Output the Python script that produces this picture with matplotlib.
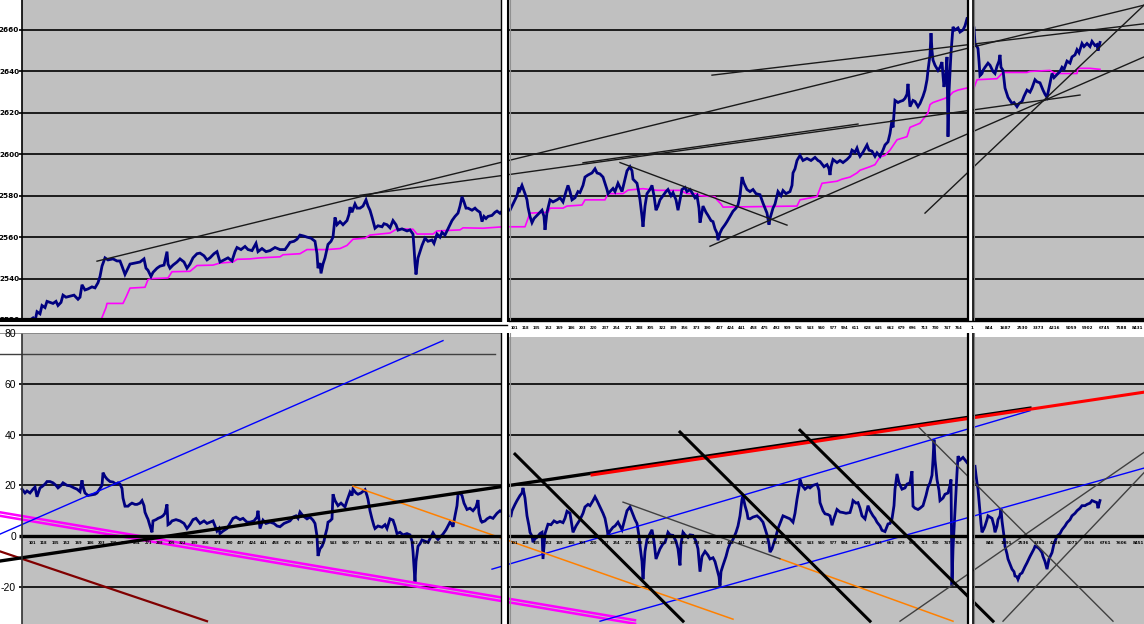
import numpy as np
import matplotlib
matplotlib.use("Agg")
import matplotlib.pyplot as plt

# ---------------- data (time index = column position of each sample) ----------------
top_left = [(30, 2520), (33, 2521), (35, 2519.5), (37, 2524), (40, 2523), (42, 2527), (45, 2526), (47, 2529), (50, 2528.5),
    (53, 2528), (56, 2529), (58, 2527), (61, 2528.5), (63, 2532), (66, 2531), (70, 2531.5), (74, 2532), (78, 2530), (80, 2531),
    (82, 2537), (85, 2534.5), (88, 2535), (92, 2536), (95, 2535.5), (98, 2538), (100, 2541), (102, 2546), (105, 2550), (108, 2549),
    (113, 2549.5), (117, 2548.5), (120, 2548.5), (122, 2546), (125, 2542), (127, 2544), (130, 2547), (135, 2547.5), (140, 2548),
    (144, 2549.5), (146, 2545), (148, 2544), (151, 2541), (153, 2543), (157, 2545), (160, 2546), (164, 2546.5), (167, 2553),
    (168, 2547), (170, 2545), (173, 2546.5), (177, 2548), (180, 2549.5), (184, 2548), (187, 2545), (190, 2547), (193, 2550),
    (197, 2552), (200, 2552.3), (204, 2551), (207, 2549), (210, 2550), (214, 2552), (217, 2553), (220, 2548), (224, 2549),
    (228, 2550), (232, 2548.5), (235, 2553), (237, 2555), (241, 2554), (245, 2555.5), (248, 2554), (252, 2553.5), (256, 2557),
    (258, 2553), (262, 2554.5), (266, 2553), (270, 2553.5), (275, 2555), (280, 2554), (285, 2554), (288, 2556), (290, 2557.5),
    (294, 2558), (297, 2559), (300, 2561), (304, 2560.5), (307, 2560), (311, 2559.5), (315, 2558), (317, 2552), (318, 2545),
    (320, 2547.5), (321, 2542.5), (323, 2547), (325, 2550), (328, 2556.5), (331, 2558), (333, 2560), (335, 2569.5), (337, 2566),
    (340, 2567.5), (343, 2566), (347, 2568), (349, 2571), (350, 2574.5), (352, 2572), (355, 2576), (357, 2574), (360, 2574),
    (363, 2575), (366, 2578), (368, 2575), (370, 2573), (372, 2569.7), (374, 2566), (375, 2564.3), (378, 2565.5), (382, 2565),
    (384, 2566.5), (387, 2566), (390, 2564.5), (393, 2568), (396, 2566), (398, 2563.4), (402, 2564), (407, 2563), (410, 2563.5),
    (413, 2561.5), (414, 2555), (415, 2547.5), (416, 2542), (418, 2550), (420, 2553), (422, 2556), (425, 2559.5), (428, 2558),
    (432, 2558.6), (434, 2557), (437, 2561.5), (440, 2560), (442, 2562.3), (445, 2561), (447, 2563), (450, 2566), (452, 2568),
    (455, 2570), (458, 2571.6), (460, 2575), (462, 2579.5), (464, 2577), (466, 2574), (468, 2574), (472, 2573), (475, 2574),
    (477, 2573), (480, 2572), (482, 2567.5), (484, 2570), (486, 2569), (488, 2570), (492, 2570.5), (495, 2572), (497, 2572.6),
    (500, 2571.5), (503, 2573), (505, 2574)]

top_mid = [(510, 2573), (512, 2575), (515, 2578), (517, 2580), (519, 2584), (520, 2582.7), (522, 2585), (525, 2581), (527, 2578),
    (528, 2574.5), (530, 2570), (532, 2567), (534, 2569), (537, 2570.5), (540, 2572), (542, 2573), (544, 2570), (545, 2563.5),
    (547, 2572), (550, 2578), (553, 2577), (557, 2578), (560, 2579), (563, 2577), (566, 2582), (568, 2585), (570, 2582),
    (572, 2578), (575, 2579), (578, 2582), (580, 2581.5), (583, 2585), (585, 2589), (588, 2590), (592, 2591), (595, 2593),
    (597, 2591), (600, 2590.5), (603, 2589), (605, 2586), (607, 2583), (608, 2581), (610, 2582), (613, 2583.5), (615, 2582),
    (618, 2586), (620, 2584), (622, 2582), (625, 2588), (627, 2592), (630, 2594), (632, 2592), (633, 2588), (635, 2587),
    (637, 2586), (639, 2581), (640, 2578), (642, 2570), (643, 2565), (645, 2575), (647, 2581), (650, 2583), (652, 2585),
    (654, 2580), (656, 2573), (658, 2575), (660, 2578), (663, 2580), (666, 2582), (668, 2583), (671, 2580), (673, 2581.5),
    (676, 2578), (678, 2573), (680, 2578), (682, 2583), (685, 2584), (687, 2582), (690, 2583), (692, 2581.5), (695, 2579),
    (697, 2580), (699, 2574), (700, 2567), (702, 2572), (703, 2575), (706, 2572), (708, 2570.5), (711, 2568), (713, 2567.5),
    (715, 2564), (717, 2562), (718, 2558.5), (720, 2562), (722, 2564), (725, 2566), (727, 2567.5), (730, 2570), (733, 2572.5),
    (736, 2574), (738, 2575.5), (740, 2580), (742, 2589), (744, 2586), (747, 2583), (750, 2582), (753, 2583), (756, 2581),
    (760, 2580.5), (763, 2576.4), (765, 2574), (767, 2571.6), (769, 2566), (770, 2569), (773, 2574), (775, 2576), (778, 2582),
    (781, 2580), (783, 2582.5), (786, 2581), (790, 2582), (792, 2585), (793, 2591), (795, 2593), (797, 2597), (800, 2599.5),
    (803, 2597), (807, 2598), (811, 2597), (815, 2598.5), (818, 2597), (820, 2596.5), (824, 2594), (827, 2595), (829, 2593),
    (830, 2590), (831, 2594), (833, 2597.5), (837, 2596), (840, 2597), (843, 2596), (847, 2597.5), (850, 2599), (852, 2602),
    (855, 2601), (857, 2603), (859, 2600), (860, 2599), (863, 2601), (867, 2604.5), (869, 2602), (872, 2601.5), (875, 2599),
    (877, 2600.7), (880, 2599), (883, 2602), (885, 2604.5), (888, 2606), (890, 2610), (892, 2616.5), (893, 2613), (895, 2626),
    (898, 2625), (900, 2625.5), (903, 2626), (905, 2627), (907, 2629), (908, 2634), (909, 2628), (910, 2623), (913, 2626),
    (915, 2625.5), (918, 2623), (920, 2624.5), (923, 2628), (925, 2631), (927, 2636), (928, 2640.5), (930, 2648), (931, 2658.5),
    (932, 2650), (933, 2645.5), (935, 2643), (938, 2640.5), (940, 2642), (942, 2644.5), (943, 2638), (944, 2632.5), (946, 2640),
    (947, 2647), (948, 2608.5), (949, 2630), (951, 2649), (952, 2655), (953, 2661.5), (955, 2660), (958, 2661), (960, 2659),
    (963, 2660), (965, 2662), (967, 2665.5)]

top_right = [(974, 2661), (975, 2653.5), (977, 2652), (978, 2651), (979, 2645), (980, 2638), (982, 2639), (983, 2640.5),
    (985, 2642), (988, 2644), (990, 2643), (993, 2640), (995, 2639), (997, 2642.5), (999, 2645), (1000, 2648), (1001, 2642),
    (1003, 2640.5), (1005, 2632), (1007, 2629), (1008, 2627.5), (1010, 2626), (1012, 2624.5), (1014, 2625), (1017, 2623),
    (1019, 2624.5), (1022, 2625.5), (1024, 2628), (1027, 2631), (1030, 2630), (1032, 2632), (1035, 2636), (1037, 2635),
    (1040, 2634.5), (1043, 2631), (1045, 2629), (1047, 2627.5), (1049, 2632), (1052, 2639), (1054, 2637), (1057, 2638.5),
    (1060, 2640), (1062, 2642), (1064, 2641), (1067, 2645), (1070, 2644), (1072, 2647), (1075, 2648), (1077, 2650.5),
    (1079, 2649), (1082, 2653.5), (1084, 2652), (1087, 2653.5), (1090, 2652), (1092, 2654.5), (1095, 2652.5), (1097, 2653),
    (1098, 2650), (1100, 2654)]

avg_left = [(101, 2520), (106, 2526), (107, 2528), (123, 2528), (126, 2531), (130, 2535.4), (145, 2535.8), (148, 2539.5),
    (152, 2540), (168, 2540.3), (172, 2543.3), (190, 2543.5), (197, 2546.3), (213, 2546.5), (220, 2547.5), (233, 2548),
    (237, 2549.3), (250, 2549.5), (260, 2550), (280, 2550.5), (283, 2551.5), (300, 2552), (307, 2554), (327, 2554),
    (340, 2554.5), (347, 2556), (353, 2559), (365, 2559.5), (370, 2561), (390, 2562), (397, 2564), (413, 2563.8),
    (417, 2561.5), (433, 2561.5), (437, 2563), (460, 2563.5), (463, 2564.5), (483, 2564.3), (503, 2565)]
avg_mid = [(510, 2565), (525, 2565), (528, 2569), (530, 2571.6), (548, 2572), (550, 2574), (563, 2574), (567, 2575),
    (582, 2575.5), (585, 2578), (605, 2578), (608, 2581), (623, 2581), (628, 2582.7), (643, 2583.4), (657, 2582.6),
    (680, 2582.6), (687, 2581), (697, 2581), (700, 2580), (715, 2579.5), (717, 2578), (721, 2576), (723, 2574.5),
    (797, 2575), (800, 2578), (817, 2579.6), (822, 2586), (837, 2587), (842, 2588), (850, 2589), (857, 2591), (860, 2592.3),
    (870, 2594), (875, 2595), (880, 2598.7), (885, 2599.5), (890, 2602), (897, 2607), (907, 2608.5), (910, 2613),
    (920, 2615), (928, 2620), (930, 2624), (933, 2625), (945, 2627), (950, 2628.5), (953, 2630), (958, 2631), (967, 2632)]
avg_right = [(974, 2632), (977, 2636), (997, 2636.5), (1000, 2638), (1003, 2639.5), (1027, 2639.5), (1030, 2640),
    (1050, 2640.5), (1055, 2639), (1077, 2639), (1078, 2641.5), (1090, 2641.5), (1100, 2641)]

bot_left = [(22, 18.5), (25, 17), (27, 17.8), (30, 17), (33, 18.5), (35, 19.3), (37, 15.5), (40, 19), (42, 19.5), (45, 20.5),
    (47, 21.5), (50, 21.5), (53, 21), (56, 20), (58, 19), (61, 20), (63, 21), (67, 20), (70, 19.8), (74, 19), (77, 18.5),
    (80, 17.5), (82, 22), (83, 19.5), (85, 17), (88, 16), (92, 16.3), (95, 16.5), (97, 17), (100, 18.8), (102, 20), (103, 25),
    (105, 23.5), (107, 22.5), (110, 21.5), (113, 21.3), (116, 20.5), (118, 21), (120, 20.5), (122, 18.8), (123, 15),
    (125, 11.8), (128, 11.8), (130, 12.5), (132, 13), (135, 12.5), (137, 12.5), (140, 13), (142, 14), (144, 12), (145, 9.4),
    (147, 7.5), (148, 6.7), (150, 4), (152, 1.5), (153, 6), (156, 6.5), (158, 7), (161, 7.5), (163, 8), (165, 9), (167, 12.5),
    (168, 4.5), (170, 5), (172, 6), (176, 6.5), (180, 6), (184, 5), (187, 3), (190, 4.5), (193, 6.5), (196, 7), (200, 5),
    (204, 6), (207, 5), (210, 5.5), (213, 6), (215, 4), (217, 2), (219, 3), (220, 1), (223, 2), (227, 3), (230, 5), (233, 7),
    (236, 7.5), (240, 6.5), (243, 7), (247, 5.5), (250, 5.5), (254, 6), (257, 7.5), (258, 10), (260, 3), (263, 6.3), (266, 5),
    (270, 5.5), (274, 5), (277, 4), (280, 3.7), (284, 5), (287, 5.5), (290, 6), (293, 7.5), (296, 8), (298, 7), (300, 9.5),
    (303, 8), (307, 6.8), (310, 7.5), (313, 6.3), (315, 5), (317, 0), (318, -7.8), (320, -5), (322, -4), (324, -2), (325, 0),
    (327, 3), (328, 5.5), (330, 6), (332, 6.8), (333, 16.5), (335, 14), (338, 12), (341, 13), (345, 11.5), (347, 14),
    (350, 17.3), (352, 16), (353, 18.5), (356, 17), (358, 16.5), (361, 17), (365, 18.3), (367, 16), (368, 14.5), (370, 10),
    (372, 6.8), (374, 4), (375, 3), (378, 4), (382, 3.5), (385, 4.5), (387, 3), (390, 6.8), (393, 6.3), (395, 4), (397, 1),
    (400, 1.5), (403, 0.5), (407, 1), (410, 0.5), (412, -2), (413, -6), (414, -12), (415, -18), (416, -10), (418, -4),
    (420, -3), (422, -1.5), (425, -2), (428, -2.5), (430, -1), (433, 1.3), (435, 0), (438, -1.3), (441, 0), (443, 0.8),
    (446, 2.5), (448, 4), (450, 5.5), (452, 4.5), (453, 3.7), (455, 8), (457, 12), (458, 16.5), (460, 17), (462, 16),
    (464, 13), (467, 10.5), (470, 11), (473, 10), (476, 11.5), (478, 14.2), (479, 9), (481, 6), (482, 5.5), (485, 6),
    (487, 6.8), (490, 7.5), (493, 7), (495, 8), (497, 9), (500, 10), (502, 9.5), (505, 10.5)]

bot_mid = [(511, 8), (512, 10), (515, 12.5), (517, 14), (520, 16), (522, 17), (523, 19), (525, 15), (527, 8), (529, 4),
    (530, 1.5), (532, 0), (533, -2.4), (535, -1), (537, -0.5), (540, 1), (542, 1.5), (543, -9), (545, 1), (548, 4.7),
    (551, 4.5), (554, 6), (557, 5.3), (560, 5.8), (563, 5.3), (565, 7), (567, 9.8), (570, 9), (572, 4), (573, 1.5), (576, 4),
    (580, 6.5), (583, 9), (585, 11.5), (588, 12.5), (590, 12), (593, 14), (595, 15.5), (597, 14), (600, 11.5), (603, 9),
    (605, 7), (607, 3), (608, 0.5), (610, 2), (613, 3.5), (615, 4), (618, 5.5), (620, 4), (622, 2.5), (625, 7), (627, 10),
    (630, 11.5), (632, 9.5), (635, 6.5), (637, 5), (639, 0), (640, -3.8), (642, -10), (643, -17), (645, -6), (647, -1.3),
    (650, 1), (652, 2.5), (654, -2), (656, -9), (658, -7), (660, -5), (663, -3), (665, -2.5), (668, 1.5), (670, 0.5),
    (673, 0.3), (676, -2), (678, -5), (680, -11.5), (681, -3), (683, 1.5), (685, 0.5), (688, -0.5), (690, 0.5), (693, 0.3),
    (696, -2), (698, -5), (700, -14), (702, -8), (705, -6), (708, -7.5), (710, -9), (713, -8.5), (715, -10), (717, -13),
    (719, -16), (720, -19.5), (721, -14), (723, -11.5), (726, -8), (728, -5), (730, -3), (733, -1.3), (736, 1.5), (738, 4),
    (740, 8), (742, 14.5), (743, 15.7), (745, 12), (747, 9.3), (748, 7), (750, 6.8), (753, 7.5), (757, 8), (760, 7),
    (763, 5.5), (765, 3), (767, 0.5), (769, -3), (770, -6.3), (772, -5), (773, -3.7), (776, 0), (778, 3), (780, 5), (783, 8),
    (786, 7.5), (790, 6.8), (793, 5.5), (795, 9), (797, 14.5), (799, 19), (800, 22.3), (802, 20), (805, 18.5), (808, 19.5),
    (810, 19), (813, 20), (817, 20.5), (819, 18), (820, 13.2), (823, 10), (825, 8.8), (828, 8.5), (830, 8), (832, 4.3),
    (834, 7), (837, 10.5), (840, 9.5), (843, 9.3), (846, 9), (850, 9.3), (852, 12), (853, 14), (856, 13), (858, 13.2),
    (860, 11), (862, 8), (865, 6.8), (868, 12), (870, 10), (873, 8), (875, 7), (877, 5.5), (880, 4), (882, 2.3), (885, 1.8),
    (888, 4.8), (890, 5), (892, 6.8), (894, 12), (895, 18.5), (897, 24.5), (899, 21), (902, 18.5), (905, 19), (907, 20.5),
    (910, 21), (912, 25.6), (913, 11.8), (915, 11), (918, 10.5), (920, 11), (923, 12), (926, 16), (928, 19.3), (930, 21),
    (932, 24), (933, 30), (934, 38), (935, 30), (937, 22.3), (939, 18), (940, 14), (943, 15), (945, 16.5), (948, 17),
    (950, 20), (951, 22.3), (952, -19.5), (953, -5), (955, 10), (957, 25), (958, 31.5), (960, 30), (963, 31), (965, 30),
    (967, 29)]

bot_right = [(975, 27.5), (976, 24), (977, 21), (978, 18.5), (979, 14), (980, 9.5), (981, 5), (982, 1.5), (984, 3),
    (985, 4), (987, 6.5), (988, 8), (990, 7.5), (992, 7), (994, 4), (995, 1.5), (997, 4), (998, 6.5), (1000, 8),
    (1001, 10.7), (1002, 6), (1003, 3), (1004, 0), (1005, -4), (1007, -7), (1008, -9), (1010, -11), (1012, -13),
    (1014, -14), (1015, -15.7), (1017, -16), (1018, -17), (1020, -15), (1022, -14.5), (1025, -12), (1027, -10.5),
    (1030, -8), (1032, -6.5), (1034, -5), (1035, -4), (1038, -4.5), (1040, -5.3), (1042, -6.5), (1043, -8), (1045, -10),
    (1047, -13), (1049, -9), (1052, -6.5), (1054, -3), (1057, 0), (1060, 1), (1062, 2.5), (1065, 4), (1067, 5.3),
    (1070, 6.5), (1072, 8), (1075, 9), (1077, 10), (1080, 11), (1082, 12), (1085, 12), (1087, 12.5), (1090, 13),
    (1092, 14), (1095, 13.5), (1097, 13.2), (1098, 11), (1100, 14)]

# trend lines: (t0, v0, t1, v1)
top_trend = [(97, 2548.4, 1144, 2672), (360, 2580.2, 1080, 2628.6), (583, 2595.9, 858, 2614.6),
             (712, 2638.2, 1144, 2663), (620, 2596, 787, 2565.8), (710, 2555.6, 1144, 2647),
             (925, 2571.6, 1144, 2672)]
bot_trend_blue = [(0, 0.8, 443, 77), (492, -13, 1030, 49.4), (600, -33.5, 1144, 26.8)]
bot_trend_magenta = [(0, 9.4, 635, -33.1), (0, 8.0, 635, -34.5)]
bot_trend_darkred = [(0, -6, 207, -33.5)]
bot_trend_black = [(0, -9.8, 1030, 50.4)]
bot_trend_red = [(592, 24.1, 1144, 56.7)]
bot_trend_black_desc = [(515, 32.3, 683, -33.5), (680, 41, 870, -33.5), (800, 41.7, 993, -33.5)]
bot_trend_orange = [(353, 19.7, 733, -32.7), (780, -8.9, 953, -33.5)]
bot_trend_gray = [(0, 71.7, 495, 71.7), (623, 13.4, 780, -8.9), (917, 43.6, 1113, -33.5),
                  (900, -33.5, 1144, 33), (1003, -33.5, 1144, 25)]

top_yticks = [2520, 2540, 2560, 2580, 2600, 2620, 2640, 2660]
bot_yticks = [-20, 0, 20, 40, 60, 80]
top_right_xlabels = ["1", "844", "1687", "2530", "3373", "4216", "5059", "5902", "6745", "7588", "8431"]
bot_right_xlabels = ["1", "846", "1691", "2536", "3381", "4226", "5071", "5916", "6761", "7606", "8451"]

# ---------------- drawing ----------------
W, H = 1144, 624
GRAY = "#C0C0C0"
NAVY = "#000080"
fig = plt.figure(figsize=(W / 100, H / 100), dpi=100)
fig.patch.set_facecolor("white")

ax_t = fig.add_axes([0, (H - 322) / H, 1, 322 / H])
ax_b = fig.add_axes([0, 0, 1, 291 / H])
top_scale = 290 / 140.0   # px per unit
ax_t.set_xlim(0, W)
ax_t.set_ylim(2520 - 2 / top_scale, 2660 + 30 / top_scale)
ax_b.set_xlim(0, W)
ax_b.set_ylim(-34.6, 80)

for ax in (ax_t, ax_b):
    ax.set_facecolor("white")
    for s in ax.spines.values():
        s.set_visible(False)
    ax.set_xticks([])
    ax.yaxis.set_zorder(10)

ax_t.axvspan(21.5, W, color=GRAY, zorder=0, lw=0)
ax_b.axvspan(22, W, color=GRAY, zorder=0, lw=0)

# gridlines
ax_t.hlines([v for v in top_yticks if v != 2520], 19, W, color="black", lw=1.2, zorder=1)
ax_t.axhline(2520, color="black", lw=3, zorder=6)
ax_b.hlines([v for v in bot_yticks if v not in (0, 80)], 19, W, color="black", lw=1.2, zorder=1)
ax_b.hlines(0, 19, W, color="black", lw=2.4, zorder=6)
ax_t.axvline(21.5, color="black", lw=1.2, zorder=6)
ax_b.axvline(22, color="#303030", lw=1.2, zorder=6)
ax_b.hlines(80, 0, 507, color="#808080", lw=1.2, zorder=6)

# y tick labels (inside the white margin)
ax_t.set_yticks(top_yticks)
ax_t.set_yticklabels([str(v) for v in top_yticks], fontsize=5.2, fontweight="bold", family="DejaVu Sans")
ax_t.tick_params(axis="y", length=0, pad=-13.8)
ax_b.set_yticks(bot_yticks)
ax_b.set_yticklabels([str(v) for v in bot_yticks], fontsize=7.5, family="Liberation Sans")
ax_b.tick_params(axis="y", length=0, pad=-11.5)

def plot_series(ax, pts, **kw):
    t = [p[0] for p in pts]
    v = [p[1] for p in pts]
    ax.plot(t, v, **kw)

for seg in (avg_left, avg_mid, avg_right):
    plot_series(ax_t, seg, color="#FF00FF", lw=1.2, zorder=2)
for seg in (top_left, top_mid, top_right):
    plot_series(ax_t, seg, color=NAVY, lw=2.0, zorder=3, solid_joinstyle="miter")
for seg in (bot_left, bot_mid, bot_right):
    plot_series(ax_b, seg, color=NAVY, lw=2.0, zorder=3, solid_joinstyle="miter")

def draw_lines(ax, lines, **kw):
    for (t0, v0, t1, v1) in lines:
        ax.plot([t0, t1], [v0, v1], **kw)

draw_lines(ax_t, top_trend, color="#1a1a1a", lw=1.0, zorder=4)
draw_lines(ax_b, bot_trend_darkred, color="#800000", lw=1.6, zorder=4)
draw_lines(ax_b, bot_trend_magenta, color="#FF00FF", lw=1.8, zorder=4)
draw_lines(ax_b, bot_trend_blue, color="#0000FF", lw=1.0, zorder=4)
draw_lines(ax_b, bot_trend_orange, color="#FF8000", lw=1.1, zorder=4)
draw_lines(ax_b, bot_trend_gray, color="#404040", lw=1.0, zorder=4)
draw_lines(ax_b, bot_trend_black, color="black", lw=2.4, zorder=5)
draw_lines(ax_b, bot_trend_red, color="#FF0000", lw=2.2, zorder=5)
draw_lines(ax_b, bot_trend_black_desc, color="black", lw=2.2, zorder=5)

# window separators
for ax in (ax_t, ax_b):
    ax.axvspan(501, 509, color="white", zorder=7, lw=0)
    ax.axvline(500.5, color="black", lw=1.0, zorder=8)
    ax.axvline(507.5, color="black", lw=1.5, zorder=8)
    ax.axvline(509.8, color="#909090", lw=0.8, zorder=8)
    ax.axvspan(968, 973, color="white", zorder=7, lw=0)
    ax.axvline(968, color="black", lw=1.6, zorder=8)
    ax.axvline(972.5, color="black", lw=1.2, zorder=8)
    ax.axvline(973.8, color="#808080", lw=0.8, zorder=8)

# white strip at top of the middle/right bottom charts
ax_b.fill_between([509, W], 80 - 4 / 2.54, 80, color="white", zorder=7, lw=0)
fig.add_artist(plt.Line2D([0, 507 / W], [1 - 324.5 / H, 1 - 324.5 / H], color="black", lw=1.0))
fig.add_artist(plt.Line2D([509 / W, 1], [1 - 321.5 / H, 1 - 321.5 / H], color="black", lw=1.0))

# tiny category-axis labels
small = dict(fontsize=3.0, family="DejaVu Sans", fontweight="bold", ha="center", va="center", zorder=9)
tiny = dict(fontsize=2.6, family="DejaVu Sans", fontweight="bold", ha="center", va="center", zorder=9)
ypx_top_row = 1 - 328 / H
for k, lab in enumerate(top_right_xlabels):
    fig.text((972.5 + 16.5 * k) / W, ypx_top_row, lab, **small)
for k, lab in enumerate(bot_right_xlabels):
    ax_b.text(973.5 + 16.5 * k, -2.8, lab, clip_on=True, **small)
for k, x in enumerate(np.arange(514, 966, 11.4)):
    fig.text(x / W, ypx_top_row, str(101 + 17 * k), **tiny)
for k, x in enumerate(np.arange(32, 503, 11.6)):
    ax_b.text(x, -2.8, str(101 + 17 * k), **tiny)
for k, x in enumerate(np.arange(514, 966, 11.4)):
    ax_b.text(x, -2.8, str(101 + 17 * k), **tiny)

fig.savefig("out.png", dpi=100, facecolor="white")
